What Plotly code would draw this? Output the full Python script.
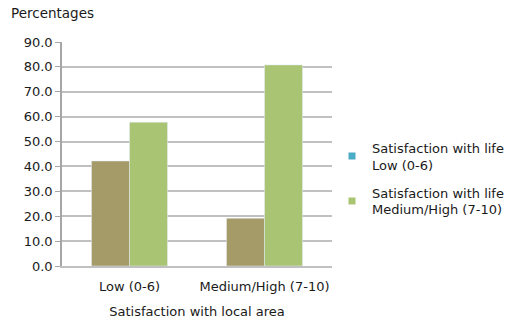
import plotly.graph_objects as go

categories = ["Low (0-6)", "Medium/High (7-10)"]
life_low = [42.2, 19.2]
life_high = [57.8, 80.8]
series_names = ["Satisfaction with life<br>Low (0-6)", "Satisfaction with life<br>Medium/High (7-10)"]
tick_vals = [0, 10, 20, 30, 40, 50, 60, 70, 80, 90]
tick_text = [f"{v:.1f}" for v in tick_vals]

FONT = "DejaVu Sans"
fig = go.Figure()
fig.add_trace(go.Bar(x=categories, y=life_low, marker_color="#A59B68", showlegend=False))
fig.add_trace(go.Bar(x=categories, y=life_high, marker_color="#A9C574", showlegend=False))
# legend entries (legend swatch colours as in the original)
fig.add_trace(go.Scatter(x=[None], y=[None], mode="markers", name=series_names[0],
                         legendgroup="a",
                         marker=dict(symbol="square", size=7, color="#4BACC6")))
fig.add_trace(go.Scatter(x=[None], y=[None], mode="markers", name=series_names[1],
                         legendgroup="b",
                         marker=dict(symbol="square", size=7, color="#A9C574")))

fig.update_layout(
    width=519, height=336,
    margin=dict(l=62, r=187, t=42, b=70, autoexpand=False),
    plot_bgcolor="white", paper_bgcolor="white",
    barmode="group", bargap=0.437, bargroupgap=0,
    font=dict(family=FONT, size=13, color="#1a1a1a"),
    legend=dict(x=1.0, y=0.595, xanchor="left", yanchor="top",
                font=dict(size=13), itemwidth=30, tracegroupgap=8),
    annotations=[dict(text="Percentages", xref="paper", yref="paper", x=-0.197, y=1.13,
                      xanchor="left", yanchor="middle", showarrow=False,
                      font=dict(size=13.5, family=FONT))],
)
fig.update_yaxes(range=[0, 90], tickvals=tick_vals, ticktext=tick_text,
                 showgrid=True, gridcolor="#c0c0c0", gridwidth=1.5,
                 showline=True, linecolor="#a6a6a6", linewidth=1.5,
                 ticks="outside", ticklen=5, tickcolor="#a6a6a6", zeroline=False,
                 tickfont=dict(size=13))
fig.update_xaxes(showline=True, linecolor="#c0c0c0", linewidth=1.5,
                 ticklabelstandoff=8,
                 title=dict(text="Satisfaction with local area", font=dict(size=13), standoff=14),
                 tickfont=dict(size=13))

fig.write_html("out.html")
